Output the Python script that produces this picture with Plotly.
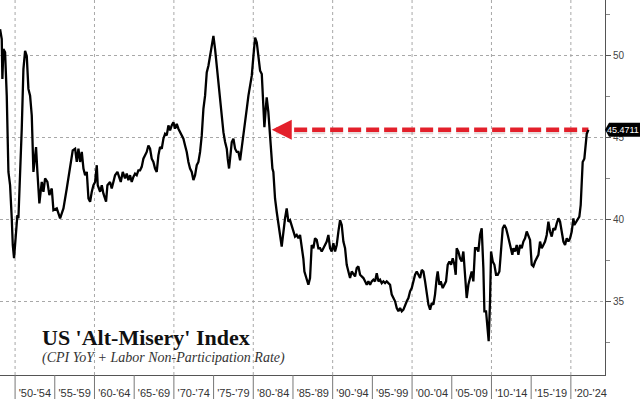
import plotly.graph_objects as go

# ---- data (decimal year, index value) ----
years = [
 1948.11,1948.32,1948.40,1948.53,1948.74,1948.95,1949.16,1949.37,1949.58,1949.71,1949.87,
 1950.08,1950.29,1950.42,1950.63,1950.84,1951.05,1951.26,1951.47,1951.68,1951.89,1952.10,
 1952.31,1952.52,1952.64,1952.81,1953.06,1953.36,1953.57,1953.78,1954.07,1954.32,1954.62,
 1954.83,1955.25,1955.46,1955.67,1955.88,1956.09,1956.51,1956.72,1957.01,1957.26,1957.56,
 1957.77,1957.98,1958.19,1958.40,1958.61,1958.82,1959.03,1959.24,1959.45,1959.66,1959.87,
 1960.08,1960.29,1960.41,1960.71,1960.92,1961.12,1961.46,1961.63,1961.96,1962.17,1962.38,
 1962.59,1962.89,1963.14,1963.31,1963.56,1963.85,1964.06,1964.27,1964.48,1964.69,1964.90,
 1965.11,1965.32,1965.53,1965.74,1965.95,1966.16,1966.37,1966.58,1966.79,1967.00,1967.21,
 1967.42,1967.63,1967.84,1968.05,1968.26,1968.47,1968.68,1968.89,1969.10,1969.31,1969.52,
 1969.73,1969.94,1970.15,1970.36,1970.57,1970.78,1970.99,1971.20,1971.41,1971.62,1971.83,
 1972.04,1972.25,1972.46,1972.67,1972.88,1973.09,1973.30,1973.51,1973.72,1973.93,1974.14,
 1974.35,1974.56,1974.77,1974.98,1975.19,1975.40,1975.61,1975.82,1976.03,1976.24,1976.45,
 1976.66,1976.78,1976.95,1977.08,1977.29,1977.50,1977.71,1977.92,1978.13,1978.34,1978.55,
 1978.76,1978.97,1979.18,1979.39,1979.60,1979.81,1980.02,1980.23,1980.44,1980.65,1980.86,
 1981.07,1981.28,1981.40,1981.57,1981.69,1981.90,1982.03,1982.20,1982.41,1982.53,1982.74,
 1982.95,1983.16,1983.37,1983.58,1983.79,1984.00,1984.21,1984.42,1984.63,1984.84,1985.05,
 1985.26,1985.47,1985.68,1985.89,1986.10,1986.31,1986.44,1986.65,1986.94,1987.15,1987.36,
 1987.57,1987.78,1987.99,1988.20,1988.41,1988.62,1988.83,1989.04,1989.25,1989.46,1989.67,
 1989.88,1990.09,1990.30,1990.51,1990.72,1990.93,1991.14,1991.35,1991.56,1991.77,1991.98,
 1992.19,1992.40,1992.61,1992.82,1993.03,1993.24,1993.45,1993.66,1993.87,1994.08,1994.29,
 1994.50,1994.71,1994.92,1995.13,1995.34,1995.55,1995.76,1995.97,1996.18,1996.39,1996.60,
 1996.81,1997.02,1997.23,1997.44,1997.65,1997.86,1998.07,1998.28,1998.49,1998.70,1998.91,
 1999.12,1999.33,1999.54,1999.75,1999.96,2000.17,2000.38,2000.59,2000.80,2001.01,2001.22,
 2001.43,2001.64,2001.85,2002.06,2002.27,2002.48,2002.69,2002.89,2003.10,2003.23,2003.44,
 2003.61,2003.86,2004.07,2004.28,2004.49,2004.70,2004.91,2005.12,2005.33,2005.50,2005.62,
 2005.83,2006.04,2006.25,2006.46,2006.67,2006.88,2007.09,2007.30,2007.51,2007.72,2007.93,
 2008.14,2008.35,2008.56,2008.77,2008.98,2009.11,2009.32,2009.49,2009.65,2009.82,2009.95,
 2010.16,2010.37,2010.58,2010.79,2011.00,2011.21,2011.42,2011.63,2011.84,2012.05,2012.26,
 2012.47,2012.63,2012.76,2012.97,2013.18,2013.39,2013.60,2013.81,2014.02,2014.23,2014.44,
 2014.65,2014.86,2015.07,2015.28,2015.49,2015.70,2015.91,2016.12,2016.33,2016.54,2016.75,
 2016.96,2017.17,2017.38,2017.59,2017.80,2018.01,2018.22,2018.43,2018.64,2018.85,2019.06,
 2019.27,2019.48,2019.69,2019.90,2020.11,2020.32,2020.44,2020.65,2020.86,2021.07,2021.24,
 2021.37,2021.49,2021.70,2021.83,2022.00,2022.21,
]
values = [
 51.62,51.01,48.58,50.40,50.20,47.56,42.90,42.09,40.07,38.44,37.63,
 39.26,40.27,40.07,42.70,45.54,49.18,50.30,49.99,47.97,47.56,46.35,
 42.90,43.71,44.42,42.90,40.98,42.29,41.69,42.50,42.29,41.48,41.89,
 40.57,40.67,40.37,40.07,40.37,40.67,41.89,42.50,43.51,44.22,44.32,
 43.51,44.32,43.51,44.12,43.11,42.70,42.90,41.28,41.08,41.69,42.09,
 42.29,43.31,42.09,41.69,42.09,41.59,41.08,42.09,42.29,41.89,42.29,
 42.70,42.90,42.60,42.29,42.90,42.50,42.80,42.40,42.70,42.29,42.60,
 42.80,42.70,43.00,43.00,43.21,43.71,43.92,44.12,44.52,44.32,43.71,
 43.51,43.11,42.90,43.91,44.42,44.32,44.93,45.23,45.13,45.74,45.44,
 45.74,45.94,45.54,45.84,45.54,45.33,45.13,44.93,44.52,44.12,43.51,
 43.11,42.90,42.40,42.70,43.31,43.51,44.12,45.13,46.75,47.56,48.98,
 49.39,49.99,50.60,51.21,50.40,49.39,48.17,46.96,46.14,45.33,44.73,
 44.32,43.71,43.11,43.71,44.73,44.93,44.32,44.12,44.12,43.61,44.32,
 45.33,45.74,46.75,47.56,48.17,48.78,49.99,51.11,50.81,49.79,49.08,
 48.88,47.16,45.64,46.75,47.46,46.55,45.54,44.12,43.11,42.90,41.28,
 40.47,39.86,39.05,38.34,39.26,40.07,40.67,39.86,39.96,39.66,39.26,
 38.95,39.05,38.85,39.05,38.44,37.60,36.82,36.42,36.01,36.42,38.44,
 38.24,38.85,38.75,38.24,38.24,38.04,38.24,38.44,38.65,39.05,38.24,
 38.04,38.55,38.04,38.44,39.26,39.96,39.66,38.65,38.24,37.23,36.82,
 36.42,36.82,36.62,36.52,37.03,37.13,36.62,36.52,36.42,36.22,36.01,
 36.22,36.01,36.22,36.32,36.22,36.72,36.22,36.32,36.11,36.22,36.11,
 36.22,36.11,36.01,35.41,35.20,35.00,34.59,34.39,34.59,34.39,34.49,
 34.80,35.00,35.20,35.61,35.81,36.22,36.62,36.82,36.62,36.42,36.92,
 36.82,36.22,35.61,34.80,34.49,34.90,34.80,35.41,36.42,36.82,36.01,
 36.22,35.81,36.01,36.22,37.23,37.43,37.23,37.63,37.23,36.62,38.24,
 38.04,37.63,37.43,38.04,36.82,35.20,36.01,36.42,36.82,36.22,38.24,
 38.24,38.04,39.05,39.46,37.03,34.39,34.39,33.38,32.57,35.00,38.04,
 37.43,37.23,36.62,36.62,36.82,38.44,39.46,39.66,39.46,39.05,38.65,
 38.24,37.84,38.24,38.04,38.44,37.84,38.44,38.24,38.65,38.85,39.26,
 39.05,38.75,37.23,37.13,37.43,37.63,37.84,38.65,38.24,38.44,38.65,
 39.05,39.86,39.26,38.95,39.46,39.36,39.76,40.07,39.86,39.26,38.65,
 38.44,38.85,38.65,38.85,39.26,40.07,39.66,39.86,39.96,40.17,40.88,
 42.50,43.51,43.71,44.52,45.23,45.4711,
]

period_centers = [1952.5 + 5 * i for i in range(15)]
period_labels = ["'50-'54", "'55-'59", "'60-'64", "'65-'69", "'70-'74", "'75-'79",
                 "'80-'84", "'85-'89", "'90-'94", "'95-'99", "'00-'04", "'05-'09",
                 "'10-'14", "'15-'19", "'20-'24"]
period_bounds = [1950 + 5 * i for i in range(15)]
decade_lines = [1950, 1960, 1970, 1980, 1990, 2000, 2010, 2020]
y_ticks = [35, 40, 45, 50]
y_minor = [32.5, 37.5, 42.5, 47.5, 52.5]
arrow_tip_year = 1982.33          # where the red arrow points back to

last_year = years[-1]
last_value = values[-1]

RED = "#e3202b"
GRID = "#a8a8a8"
AXIS = "#555555"

fig = go.Figure()

# soft shadow + red dashed reference line from the latest reading back to 1982
fig.add_trace(go.Scatter(
    x=[arrow_tip_year + 0.55, last_year], y=[last_value - 0.12, last_value - 0.12],
    mode="lines", line=dict(color="rgba(120,60,60,0.18)", width=5, dash="13px,5px"),
    hoverinfo="skip", showlegend=False))
fig.add_trace(go.Scatter(
    x=[arrow_tip_year + 0.55, last_year], y=[last_value, last_value],
    mode="lines", line=dict(color=RED, width=4.5, dash="13px,5px"),
    hoverinfo="skip", showlegend=False))

fig.add_trace(go.Scatter(
    x=years, y=values, mode="lines",
    line=dict(color="black", width=2.3),
    showlegend=False, hoverinfo="x+y"))

# arrowhead
fig.add_annotation(x=arrow_tip_year, y=last_value, xref="x", yref="y",
                   ax=16, ay=0, text="", showarrow=True,
                   arrowhead=2, arrowsize=1.0, arrowwidth=4, arrowcolor=RED)

# vertical dotted decade grid lines
for d in decade_lines:
    fig.add_shape(type="line", x0=d, x1=d, y0=0, y1=1, xref="x", yref="paper",
                  line=dict(color=GRID, width=1, dash="dot"), layer="below")

# dividers between the period labels under the axis
for b in period_bounds:
    fig.add_shape(type="line", x0=b, x1=b, xref="x", yref="paper",
                  ysizemode="pixel", yanchor=0, y0=0, y1=-24,
                  line=dict(color="#777777", width=1))

# last-value tag on the right axis
fig.add_shape(type="path", xref="paper", yref="y", xsizemode="pixel",
              ysizemode="pixel", xanchor=1, yanchor=last_value,
              path="M0,0 L4,-7 L40,-7 L40,7 L4,7 Z",
              fillcolor="black", line=dict(width=0))
fig.add_annotation(x=1 + 35 / 605, y=last_value, xref="paper", yref="y",
                   xanchor="right", yanchor="middle", xshift=0,
                   text="45.4711", showarrow=False, borderpad=0,
                   font=dict(family="Liberation Sans, Arial", size=9, color="white"))

# title block
fig.add_annotation(x=40 / 605, y=0.101, xref="paper", yref="paper",
                   xanchor="left", yanchor="middle", showarrow=False,
                   text="<b>US 'Alt-Misery' Index</b>",
                   font=dict(family="Liberation Serif, Times New Roman, serif",
                             size=22, color="#111111"))
fig.add_annotation(x=40 / 605, y=0.046, xref="paper", yref="paper",
                   xanchor="left", yanchor="middle", showarrow=False,
                   text="<i>(CPI YoY + Labor Non-Participation Rate)</i>",
                   font=dict(family="Liberation Serif, Times New Roman, serif",
                             size=14, color="#333333"))

fig.update_layout(
    width=640, height=399,
    margin=dict(l=0, r=35, t=0, b=22),
    paper_bgcolor="white", plot_bgcolor="white",
    showlegend=False,
    xaxis=dict(
        range=[1948.1, 2024.3], tickmode="array",
        tickvals=period_centers, ticktext=period_labels,
        ticks="outside", ticklen=8, tickcolor="rgba(0,0,0,0)",
        tickfont=dict(family="Liberation Sans, Arial", size=11, color="#333333"),
        showgrid=False, zeroline=False,
        showline=True, linecolor=AXIS, linewidth=1,
    ),
    yaxis=dict(
        side="right", range=[30.5, 53.4], tickmode="array", tickvals=y_ticks,
        ticks="outside", ticklen=5, tickcolor=AXIS, tickwidth=1,
        tickfont=dict(family="Liberation Sans, Arial", size=10, color="#444444"),
        showgrid=True, gridcolor=GRID, griddash="dot", gridwidth=1,
        zeroline=False, showline=True, linecolor=AXIS, linewidth=1,
        minor=dict(tickmode="array", tickvals=y_minor, ticks="outside",
                   ticklen=4, tickcolor="#888888", showgrid=False),
    ),
)

fig.write_html("out.html", config={"displayModeBar": False},
               post_script="document.body.style.margin='0';document.body.style.overflow='hidden';")
